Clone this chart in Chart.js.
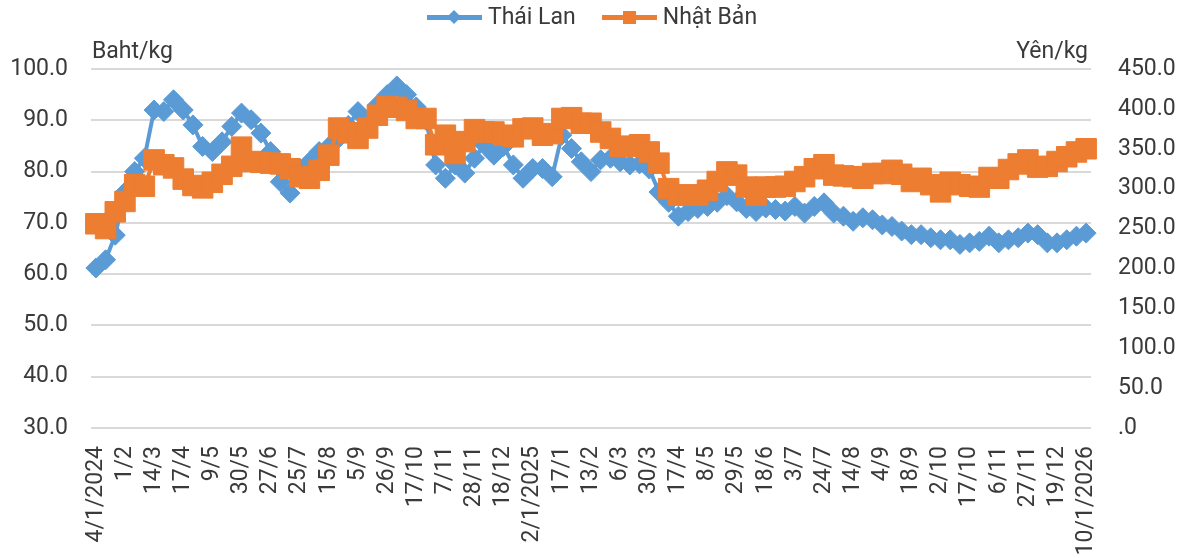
<!DOCTYPE html>
<html>
<head>
<meta charset="utf-8">
<script src="https://cdn.jsdelivr.net/npm/chart.js@4.4.1/dist/chart.umd.min.js"></script>
<style>
  html, body { margin: 0; padding: 0; background: #fff; }
  #wrap { position: relative; width: 1184px; height: 558px; font-family: Roboto, sans-serif; color: #3a3a3a; }
  #chart { position: absolute; left: 0; top: 0; }
  .legend { position: absolute; top: 4px; left: 0; width: 1184px; display: flex; justify-content: center; gap: 26px; font-size: 23px; line-height: 26px; }
  .item { display: flex; align-items: center; gap: 6px; }
  .swatch { position: relative; width: 55px; height: 5px; }
  .swatch i { position: absolute; left: 50%; top: 50%; }
  .blue { background: #5b9bd5; }
  .blue i { width: 10px; height: 10px; margin: -5px 0 0 -5px; background: #5b9bd5; transform: rotate(45deg); }
  .orange { background: #ed7d31; }
  .orange i { width: 13px; height: 13px; margin: -6.5px 0 0 -6.5px; background: #ed7d31; }
  .unit { position: absolute; top: 37px; font-size: 23px; }
</style>
</head>
<body>
<div id="wrap">
  <canvas id="chart" width="1184" height="558"></canvas>
  <div class="legend">
    <div class="item"><span class="swatch blue"><i></i></span>Thái Lan</div>
    <div class="item"><span class="swatch orange"><i></i></span>Nhật Bản</div>
  </div>
  <div class="unit" style="left:92px">Baht/kg</div>
  <div class="unit" style="right:96px">Yên/kg</div>
</div>
<script>
// every third point carries a date label
const tickLabels = ['4/1/2024', '1/2', '14/3', '17/4', '9/5', '30/5', '27/6', '25/7', '15/8', '5/9',
  '26/9', '17/10', '7/11', '28/11', '18/12', '2/1/2025', '17/1', '13/2', '6/3', '30/3',
  '17/4', '8/5', '29/5', '18/6', '3/7', '24/7', '14/8', '4/9', '18/9', '2/10',
  '17/10', '6/11', '27/11', '19/12', '10/1/2026'];
const LABEL_STEP = 3;

// Thái Lan, Baht/kg (left axis)
const thaiLan = [61.2, 62.8, 67.6, 76.0, 80.0, 82.6, 92.0, 91.7, 94.0, 92.0,
  89.1, 84.9, 83.9, 85.8, 88.8, 91.4, 90.1, 87.5, 83.9, 78.0,
  75.8, 80.6, 81.9, 83.9, 84.9, 86.5, 89.0, 91.7, 90.0, 93.0,
  95.0, 96.7, 95.0, 92.6, 90.0, 81.3, 78.7, 81.3, 79.7, 82.6,
  85.2, 83.2, 84.9, 81.3, 78.7, 80.6, 80.6, 79.0, 87.1, 84.5,
  81.9, 80.0, 82.3, 82.6, 81.9, 81.3, 81.5, 80.5, 76.0, 74.0,
  71.3, 72.2, 72.8, 73.2, 74.0, 75.3, 74.1, 72.8, 72.2, 72.9,
  72.6, 72.3, 73.2, 71.9, 73.2, 73.9, 71.9, 71.3, 70.3, 71.0,
  70.6, 69.6, 69.3, 68.4, 67.7, 67.7, 67.1, 66.7, 66.7, 65.8,
  66.1, 66.4, 67.4, 66.1, 66.7, 67.1, 68.0, 67.7, 66.1, 66.1,
  66.7, 67.4, 68.0];

// Nhật Bản, Yên/kg (right axis)
const nhatBan = [256, 250, 271, 284, 305, 303, 336, 330, 326, 312,
  304, 301, 308, 318, 328, 352, 334, 333, 332, 331,
  325, 315, 313, 323, 342, 376, 370, 363, 376, 392,
  403, 402, 398, 388, 388, 355, 367, 344, 359, 374,
  371, 371, 367, 365, 375, 376, 367, 369, 388, 389,
  382, 382, 371, 363, 353, 353, 355, 346, 332, 300,
  292, 292, 292, 298, 309, 321, 317, 302, 292, 302,
  302, 303, 309, 315, 325, 330, 317, 316, 315, 313,
  319, 319, 323, 318, 309, 313, 305, 296, 308, 305,
  303, 302, 314, 313, 324, 331, 336, 327, 328, 334,
  340, 346, 350];

const categories = thaiLan.map((_, i) => (i % LABEL_STEP === 0 ? tickLabels[i / LABEL_STEP] : ''));

const TEXT = '#3a3a3a';
const tickFont = { family: 'Roboto', size: 23 };

new Chart(document.getElementById('chart'), {
  type: 'line',
  data: {
    labels: categories,
    datasets: [{
      label: 'Thái Lan',
      data: thaiLan,
      yAxisID: 'y',
      borderColor: '#5b9bd5',
      backgroundColor: '#5b9bd5',
      borderWidth: 4,
      pointStyle: 'rectRot',
      pointRadius: 10,
      pointBorderWidth: 1,
      pointBorderColor: '#5b9bd5',
      tension: 0,
      clip: false,
      order: 2,
    }, {
      label: 'Nhật Bản',
      data: nhatBan,
      yAxisID: 'y2',
      borderColor: '#ed7d31',
      backgroundColor: '#ed7d31',
      borderWidth: 4,
      pointStyle: 'rect',
      pointRadius: 14.5,
      pointBorderWidth: 1,
      pointBorderColor: '#ed7d31',
      tension: 0,
      clip: false,
      order: 1,
    }],
  },
  options: {
    responsive: false,
    animation: false,
    layout: { padding: { top: 69, left: 0, right: 0, bottom: 0 } },
    plugins: {
      legend: { display: false },
      tooltip: { enabled: false },
    },
    scales: {
      x: {
        type: 'category',
        offset: true,
        grid: { display: false },
        border: { display: false },
        ticks: {
          autoSkip: false,
          minRotation: 90,
          maxRotation: 90,
          padding: 10,
          color: TEXT,
          font: tickFont,
        },
        afterFit: (scale) => { scale.height = 130; },
      },
      y: {
        position: 'left',
        min: 30,
        max: 100,
        grid: { color: '#d9d9d9', lineWidth: 2, drawTicks: false },
        border: { display: false },
        ticks: {
          stepSize: 10,
          padding: 23,
          color: TEXT,
          font: tickFont,
          callback: (v) => v.toFixed(1),
        },
        afterFit: (scale) => { scale.width = 91; },
      },
      y2: {
        position: 'right',
        min: 0,
        max: 450,
        grid: { display: false },
        border: { display: false },
        ticks: {
          stepSize: 50,
          padding: 19,
          color: TEXT,
          font: tickFont,
          callback: (v) => (v === 0 ? '.0' : v.toFixed(1)),
        },
        afterFit: (scale) => { scale.width = 93; },
      },
    },
  },
});
</script>
</body>
</html>
